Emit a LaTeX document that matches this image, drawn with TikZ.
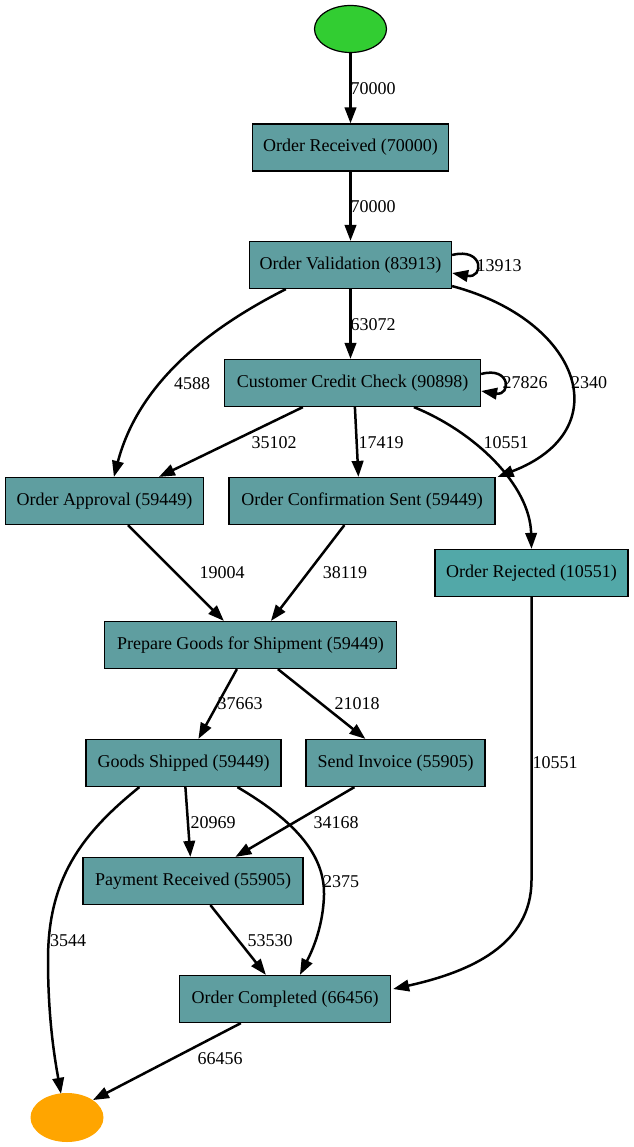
\documentclass[tikz,border=0pt]{standalone}
\usepackage{fontspec}
\setmainfont{Liberation Serif}
\usetikzlibrary{arrows.meta,shapes.geometric,calc}
\definecolor{cadet}{RGB}{95,158,160}
\definecolor{rej}{RGB}{82,168,168}
\definecolor{startg}{RGB}{50,205,50}
\definecolor{endo}{RGB}{255,165,0}
\begin{document}
\begin{tikzpicture}[x=1pt,y=-1pt,
  act/.style={draw=black, line width=1.2pt, fill=cadet, minimum height=47pt, inner sep=0pt, font=\fontsize{18}{20}\selectfont},
  lbl/.style={font=\fontsize{18}{20}\selectfont, inner sep=0pt},
  flow/.style={line width=2.5pt, -{Triangle[length=16pt,width=11.5pt]}}]
\useasboundingbox (0,0) rectangle (633,1147);
% nodes
\node[ellipse, draw=black, line width=1.2pt, fill=startg, minimum width=72pt, minimum height=47pt, inner sep=0pt] (S) at (350.5,29) {};
\node[act, minimum width=196pt] (OR) at (350.5,147.5) {Order Received (70000)};
\node[act, minimum width=202pt] (OV) at (350.5,265) {Order Validation (83913)};
\node[act, minimum width=256pt] (CCC) at (352.5,383) {Customer Credit Check (90898)};
\node[act, minimum width=198pt] (OA) at (104.5,501) {Order Approval (59449)};
\node[act, minimum width=266pt] (OCS) at (362,501) {Order Confirmation Sent (59449)};
\node[act, fill=rej, minimum width=193pt] (REJ) at (531.5,573) {Order Rejected (10551)};
\node[act, minimum width=292pt] (PG) at (250.5,645) {Prepare Goods for Shipment (59449)};
\node[act, minimum width=195pt] (GS) at (183.5,763) {Goods Shipped (59449)};
\node[act, minimum width=179pt] (SI) at (395.5,763) {Send Invoice (55905)};
\node[act, minimum width=220pt] (PR) at (193,881) {Payment Received (55905)};
\node[act, minimum width=211pt] (OC) at (285,999) {Order Completed (66456)};
\node[ellipse, fill=endo, minimum width=73pt, minimum height=49pt, inner sep=0pt] (E) at (67,1117.5) {};
% edges
\draw[flow] (S) -- (OR);
\draw[flow] (OR) -- (OV);
\draw[flow] ($(OV.east)+(0,-10)$) .. controls ($(OV.east)+(32,-18)$) and ($(OV.east)+(32,14)$) .. ($(OV.east)+(0,8)$);
\draw[flow] (OV.south) -- (OV.south |- CCC.north);
\draw[flow] ($(OV.south west)+(37,0)$) .. controls (205,330) and (138,385) .. ($(OA.north west)+(109,0)$);
\draw[flow] ($(OV.south east)+(0,-3)$) .. controls (580,320) and (620,430) .. ($(OCS.north east)+(2,0)$);
\draw[flow] ($(CCC.east)+(0,-9)$) .. controls ($(CCC.east)+(30,-17)$) and ($(CCC.east)+(30,13)$) .. ($(CCC.east)+(0,8)$);
\draw[flow] ($(CCC.south west)+(79,0)$) -- ($(OA.north west)+(154,0)$);
\draw[flow] ($(CCC.south west)+(131,0)$) -- ($(OCS.north west)+(130,0)$);
\draw[flow] ($(CCC.south west)+(190,0)$) .. controls (475,432) and (530,485) .. ($(REJ.north)+(0,0)$);
\draw[flow] ($(OA.south west)+(123,0)$) -- ($(PG.north west)+(120,0)$);
\draw[flow] ($(OCS.south west)+(116,0)$) -- ($(PG.north west)+(167,0)$);
\draw[flow] ($(PG.south west)+(133,0)$) -- ($(GS.north west)+(113,0)$);
\draw[flow] ($(PG.south west)+(174,0)$) -- ($(SI.north west)+(60,0)$);
\draw[flow] (REJ.south) -- (REJ.south |- 0,880) .. controls (REJ.south |- 0,945) and (470,972) .. ($(OC.east)+(2,-10)$);
\draw[flow] ($(GS.south west)+(100,0)$) -- ($(PR.north west)+(108,0)$);
\draw[flow] ($(SI.south west)+(49,0)$) -- ($(PR.north west)+(153,0)$);
\draw[flow] ($(GS.south west)+(152,0)$) .. controls (290,818) and (325,852) .. (324,895) .. controls (323,930) and (310,955) .. ($(OC.north west)+(121,0)$);
\draw[flow] ($(GS.south west)+(54,0)$) .. controls (80,835) and (48,880) .. (48,960) .. controls (48,1020) and (55,1060) .. ($(E.north)+(-6,1)$);
\draw[flow] ($(PR.south west)+(128,0)$) -- ($(OC.north west)+(87,0)$);
\draw[flow] ($(OC.south west)+(62,0)$) -- (E.north east);
% labels
\node[lbl] (l1) at (373,89) {70000};
\node[lbl] (l2) at (373,207) {70000};
\node[lbl] (l3) at (499,266) {13913};
\node[lbl] (l4) at (373,325) {63072};
\node[lbl] (l5) at (192,384) {4588};
\node[lbl] (l6) at (525,383) {27826};
\node[lbl] (l7) at (589,383) {2340};
\node[lbl] (l8) at (274,443) {35102};
\node[lbl] (l9) at (381,443) {17419};
\node[lbl] (l10) at (506,443) {10551};
\node[lbl] (l11) at (222,573) {19004};
\node[lbl] (l12) at (345,573) {38119};
\node[lbl] (l13) at (240,704) {37663};
\node[lbl] (l14) at (357,704) {21018};
\node[lbl] (l15) at (555,763) {10551};
\node[lbl] (l16) at (213,823) {20969};
\node[lbl] (l17) at (336,823) {34168};
\node[lbl] (l18) at (341,882) {2375};
\node[lbl] (l19) at (68,941) {3544};
\node[lbl] (l20) at (270,941) {53530};
\node[lbl] (l21) at (220,1059) {66456};
\end{tikzpicture}
\end{document}
